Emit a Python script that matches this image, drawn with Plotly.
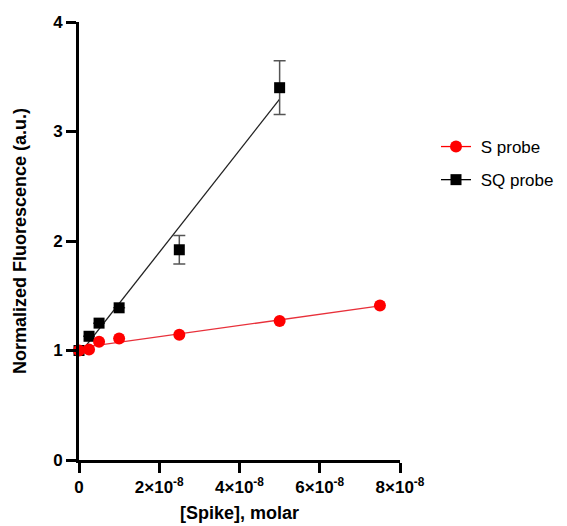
import numpy as np
import plotly.graph_objects as go

# Data (x in molar)
s_x = [0, 2.5e-9, 5e-9, 1e-8, 2.5e-8, 5e-8, 7.5e-8]
s_y = [1.00, 1.01, 1.08, 1.11, 1.144, 1.27, 1.41]

sq_x = [0, 2.5e-9, 5e-9, 1e-8, 2.5e-8, 5e-8]
sq_y = [1.00, 1.13, 1.25, 1.39, 1.92, 3.40]
sq_err = [0, 0, 0, 0, 0.13, 0.245]

x_tickvals = [0, 2e-8, 4e-8, 6e-8, 8e-8]
x_ticktext = ["0", "2×10<sup>-8</sup>", "4×10<sup>-8</sup>", "6×10<sup>-8</sup>", "8×10<sup>-8</sup>"]
y_tickvals = [0, 1, 2, 3, 4]

FONT = "Arial, Liberation Sans, Helvetica, sans-serif"

# linear fits
s_fit = np.polyfit(s_x, s_y, 1)
sq_fit = np.polyfit(sq_x, sq_y, 1)
s_fx = [min(s_x), max(s_x)]
sq_fx = [min(sq_x), max(sq_x)]

fig = go.Figure()

# SQ fit line + points
fig.add_trace(go.Scatter(x=sq_fx, y=list(np.polyval(sq_fit, sq_fx)), mode="lines",
                         line=dict(color="#222222", width=1.3), showlegend=False,
                         cliponaxis=False, hoverinfo="skip"))
fig.add_trace(go.Scatter(x=sq_x, y=sq_y, mode="markers",
                         marker=dict(symbol="square", size=11, color="black"),
                         error_y=dict(type="data", array=sq_err, color="#555555",
                                      thickness=1.5, width=6),
                         showlegend=False, cliponaxis=False))
# S fit line + points
fig.add_trace(go.Scatter(x=s_fx, y=list(np.polyval(s_fit, s_fx)), mode="lines",
                         line=dict(color="#e8303a", width=1.3), showlegend=False,
                         cliponaxis=False, hoverinfo="skip"))
fig.add_trace(go.Scatter(x=s_x, y=s_y, mode="markers",
                         marker=dict(symbol="circle", size=12, color="#ff0000"),
                         showlegend=False, cliponaxis=False))

# legend entries
fig.add_trace(go.Scatter(x=[None], y=[None], mode="lines+markers", name=" S probe",
                         line=dict(color="#ff0000", width=1.3),
                         marker=dict(symbol="circle", size=12, color="#ff0000"),
                         legendgroup="a", legendrank=1))
fig.add_trace(go.Scatter(x=[None], y=[None], mode="lines+markers", name=" SQ probe",
                         line=dict(color="black", width=1.3),
                         marker=dict(symbol="square", size=11, color="black"),
                         legendgroup="b", legendrank=2))

axis_common = dict(
    showline=True, linecolor="black", linewidth=3,
    ticks="outside", ticklen=10, tickwidth=3, tickcolor="black",
    showgrid=False, zeroline=False, automargin=False,
    tickfont=dict(family=FONT, size=17, color="black", weight="bold"),
)

fig.update_xaxes(range=[0, 8e-8], tickvals=x_tickvals, ticktext=x_ticktext,
                 title=dict(text="[Spike], molar", standoff=10,
                            font=dict(family=FONT, size=18, color="black", weight="bold")),
                 **axis_common)
fig.update_yaxes(range=[0, 4], tickvals=y_tickvals,
                 title=dict(text="Normalized Fluorescence (a.u.)", standoff=22,
                            font=dict(family=FONT, size=18, color="black", weight="bold")),
                 **axis_common)

# page body adds an 8px offset; compensate in the figure size/margins
fig.update_layout(
    width=559, height=518,
    margin=dict(l=71, r=167, t=14, b=66, autoexpand=False),
    plot_bgcolor="white", paper_bgcolor="white",
    showlegend=True,
    legend=dict(x=(436 - 79) / 321, y=(460 - 129) / 438, xanchor="left", yanchor="top",
                font=dict(family=FONT, size=17, color="black"),
                traceorder="grouped", tracegroupgap=8, itemwidth=30,
                bgcolor="rgba(0,0,0,0)"),
)

fig.write_html("out.html")
